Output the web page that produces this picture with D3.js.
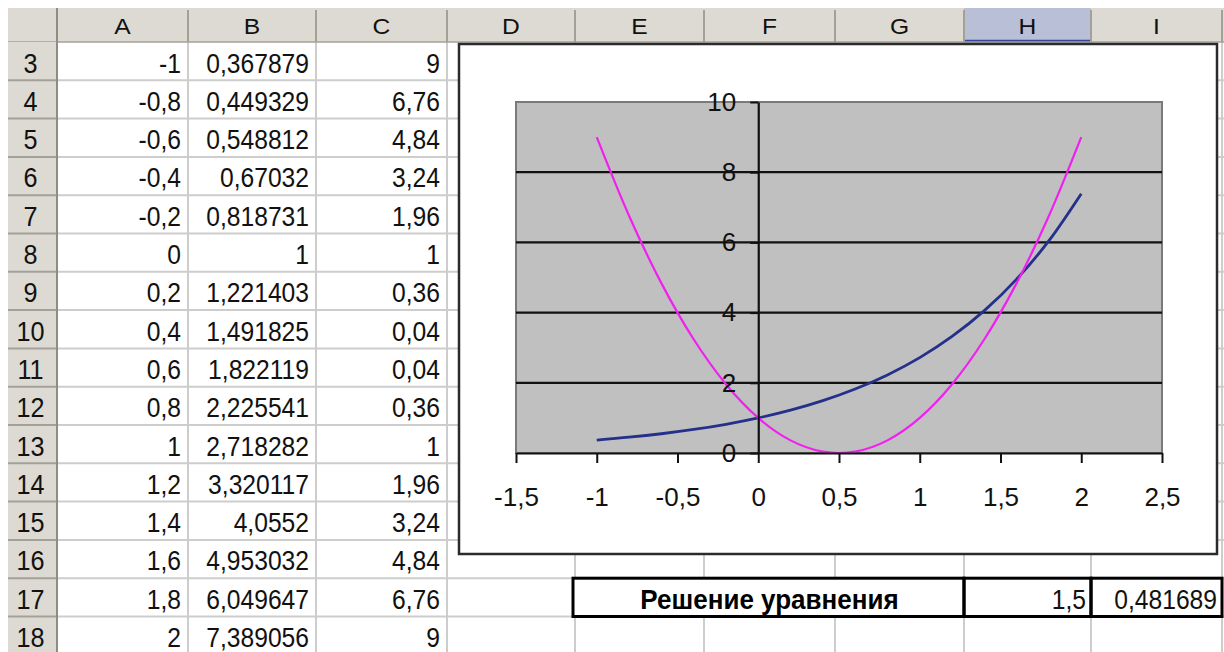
<!DOCTYPE html>
<html>
<head>
<meta charset="utf-8">
<script src="https://cdn.jsdelivr.net/npm/d3@7"></script>
<style>
  body { margin: 0; background: #fff; }
  svg { display: block; }
  text { font-family: "Liberation Sans", Arial, sans-serif; }
</style>
</head>
<body>
<svg id="sheet" width="1224" height="652"></svg>
<script>
// Worksheet columns: argument x, e^x and (2x-1)^2
const xValues = [-1, -0.8, -0.6, -0.4, -0.2, 0, 0.2, 0.4, 0.6, 0.8, 1, 1.2, 1.4, 1.6, 1.8, 2];
const expValues = [0.367879, 0.449329, 0.548812, 0.67032, 0.818731, 1, 1.221403, 1.491825,
                   1.822119, 2.225541, 2.718282, 3.320117, 4.0552, 4.953032, 6.049647, 7.389056];
const squareValues = [9, 6.76, 4.84, 3.24, 1.96, 1, 0.36, 0.04, 0.04, 0.36, 1, 1.96, 3.24, 4.84, 6.76, 9];
const rowNumbers = [3, 4, 5, 6, 7, 8, 9, 10, 11, 12, 13, 14, 15, 16, 17, 18];
const columnLetters = ["A", "B", "C", "D", "E", "F", "G", "H", "I"];
const xTicks = [-1.5, -1, -0.5, 0, 0.5, 1, 1.5, 2, 2.5];
const xTickLabels = ["-1,5", "-1", "-0,5", "0", "0,5", "1", "1,5", "2", "2,5"];
const yTicks = [0, 2, 4, 6, 8, 10];
const yTickLabels = ["0", "2", "4", "6", "8", "10"];
const solutionLabel = "Решение уравнения";
const solutionValues = [1.5, 0.481689];

const svg = d3.select("#sheet");
const fmt = v => String(v).replace(".", ",");

// ---- sheet geometry ----
const colEdges = [8, 57, 188, 316, 447, 575, 704, 835, 964, 1091, 1222, 1260];
const headerTop = 8, headerBottom = 42, rowH = 38.3;
const rowTop = r => headerBottom + (r - 3) * rowH;
const activeCol = "H";

const gridColor = "#cdcdcd";
const headerFill = "#dcdad3";
const headerLine = "#a3a197";

// cell gridlines
const grid = svg.append("g");
colEdges.slice(1).forEach(x => grid.append("line")
  .attr("x1", x).attr("x2", x).attr("y1", headerBottom).attr("y2", 652)
  .attr("stroke", gridColor).attr("stroke-width", 2));
rowNumbers.forEach(r => grid.append("line")
  .attr("x1", colEdges[1]).attr("x2", 1224).attr("y1", rowTop(r) + rowH).attr("y2", rowTop(r) + rowH)
  .attr("stroke", gridColor).attr("stroke-width", 2));

// column header strip
const head = svg.append("g");
head.append("rect").attr("x", colEdges[0]).attr("y", headerTop)
  .attr("width", 1224 - colEdges[0]).attr("height", headerBottom - headerTop).attr("fill", headerFill);
columnLetters.forEach((c, i) => {
  const x0 = colEdges[i + 1], x1 = colEdges[i + 2];
  if (c === activeCol) {
    head.append("rect").attr("x", x0).attr("y", headerTop).attr("width", x1 - x0)
      .attr("height", headerBottom - headerTop).attr("fill", "#b8bfd6");
    head.append("line").attr("x1", x0).attr("x2", x1).attr("y1", headerBottom - 1).attr("y2", headerBottom - 1)
      .attr("stroke", "#34469e").attr("stroke-width", 2.5);
  }
  head.append("text").attr("transform", `translate(${(x0 + x1) / 2},${headerBottom - 8}) scale(1.12,1)`)
    .attr("text-anchor", "middle").attr("font-size", 22).attr("fill", "#111").text(c);
});
colEdges.slice(1).forEach(x => head.append("line")
  .attr("x1", x).attr("x2", x).attr("y1", headerTop + 2).attr("y2", headerBottom)
  .attr("stroke", headerLine).attr("stroke-width", 2));
head.append("line").attr("x1", colEdges[0]).attr("x2", 1224).attr("y1", headerBottom).attr("y2", headerBottom)
  .attr("stroke", headerLine).attr("stroke-width", 1.5);

// row header strip
head.append("rect").attr("x", colEdges[0]).attr("y", headerBottom)
  .attr("width", colEdges[1] - colEdges[0]).attr("height", 652 - headerBottom).attr("fill", headerFill);
rowNumbers.forEach(r => {
  head.append("line").attr("x1", colEdges[0]).attr("x2", colEdges[1])
    .attr("y1", rowTop(r) + rowH).attr("y2", rowTop(r) + rowH)
    .attr("stroke", headerLine).attr("stroke-width", 2);
  head.append("text").attr("transform", `translate(${(colEdges[0] + colEdges[1]) / 2 - 2},${rowTop(r) + 30.5}) scale(0.9,1)`)
    .attr("text-anchor", "middle").attr("font-size", 28).attr("fill", "#111").text(r);
});
head.append("line").attr("x1", colEdges[1]).attr("x2", colEdges[1]).attr("y1", headerTop).attr("y2", 652)
  .attr("stroke", "#8e8c84").attr("stroke-width", 2);

// cell values, right aligned
const cells = svg.append("g").attr("fill", "#111").attr("font-size", 28);
const cellText = (str, colIdx, r) => cells.append("text")
  .attr("transform", `translate(${colEdges[colIdx + 2] - 7},${rowTop(r) + 30.5}) scale(0.88,1)`)
  .attr("text-anchor", "end").text(str);
rowNumbers.forEach((r, i) => {
  cellText(fmt(xValues[i]), 0, r);
  cellText(fmt(expValues[i]), 1, r);
  cellText(fmt(squareValues[i]), 2, r);
});

// ---- embedded chart ----
const chart = svg.append("g");
chart.append("rect").attr("x", 459).attr("y", 44).attr("width", 758).attr("height", 510)
  .attr("fill", "#fff").attr("stroke", "#2b2b2b").attr("stroke-width", 2.5);

const x = d3.scaleLinear().domain([-1.5, 2.5]).range([516, 1162]);
const y = d3.scaleLinear().domain([0, 10]).range([453, 102]);

chart.append("rect").attr("x", x(-1.5)).attr("y", y(10))
  .attr("width", x(2.5) - x(-1.5)).attr("height", y(0) - y(10))
  .attr("fill", "#c0c0c0").attr("stroke", "#7a7a7a").attr("stroke-width", 2);

// horizontal gridlines
chart.append("g").selectAll("line").data(yTicks.filter(t => t > 0 && t < 10)).join("line")
  .attr("x1", x(-1.5)).attr("x2", x(2.5)).attr("y1", d => y(d)).attr("y2", d => y(d))
  .attr("stroke", "#111").attr("stroke-width", 2.2);

// smoothed series
const smooth = d3.curveCardinal.tension(0);
const seriesLine = d3.line().x((d, i) => x(xValues[i])).y(d => y(d)).curve(smooth);
chart.append("path").attr("d", seriesLine(expValues))
  .attr("fill", "none").attr("stroke", "#24308a").attr("stroke-width", 2.8);
chart.append("path").attr("d", seriesLine(squareValues))
  .attr("fill", "none").attr("stroke", "#f020f0").attr("stroke-width", 2.2);

// axes crossing at the origin
const xAxis = d3.axisBottom(x).tickValues(xTicks).tickSize(10).tickSizeOuter(0).tickPadding(25)
  .tickFormat((d, i) => xTickLabels[i]);
const yAxis = d3.axisLeft(y).tickValues(yTicks).tickSize(8).tickSizeOuter(0).tickPadding(14)
  .tickFormat((d, i) => yTickLabels[i]);

const gx = chart.append("g").attr("transform", `translate(0,${y(0)})`).call(xAxis);
const gy = chart.append("g").attr("transform", `translate(${x(0)},0)`).call(yAxis);
[gx, gy].forEach(g => {
  g.select(".domain").attr("stroke", "#111").attr("stroke-width", 2.2);
  g.selectAll(".tick line").attr("stroke", "#111").attr("stroke-width", 2);
  g.selectAll(".tick text").attr("font-size", 26).attr("fill", "#111")
    .attr("font-family", "'Liberation Sans', Arial, sans-serif");
});

// ---- solution row ----
const box = svg.append("g");
const r17 = rowTop(17);
box.append("rect").attr("x", colEdges[5] - 2).attr("y", r17).attr("width", colEdges[10] - colEdges[5] + 2)
  .attr("height", rowH).attr("fill", "#fff");
[[colEdges[5] - 2, colEdges[8]], [colEdges[8], colEdges[9]], [colEdges[9], colEdges[10]]].forEach(([a, b]) =>
  box.append("rect").attr("x", a).attr("y", r17).attr("width", b - a).attr("height", rowH)
    .attr("fill", "none").attr("stroke", "#000").attr("stroke-width", 3));
box.append("text")
  .attr("transform", `translate(${(colEdges[5] + colEdges[8]) / 2},${r17 + 30.5}) scale(0.93,1)`)
  .attr("text-anchor", "middle").attr("font-size", 28).attr("font-weight", "bold").attr("fill", "#000")
  .text(solutionLabel);
solutionValues.forEach((v, i) => box.append("text")
  .attr("transform", `translate(${colEdges[9 + i] - 5},${r17 + 30.5}) scale(0.88,1)`)
  .attr("text-anchor", "end").attr("font-size", 28).attr("fill", "#111").text(fmt(v)));
</script>
</body>
</html>
